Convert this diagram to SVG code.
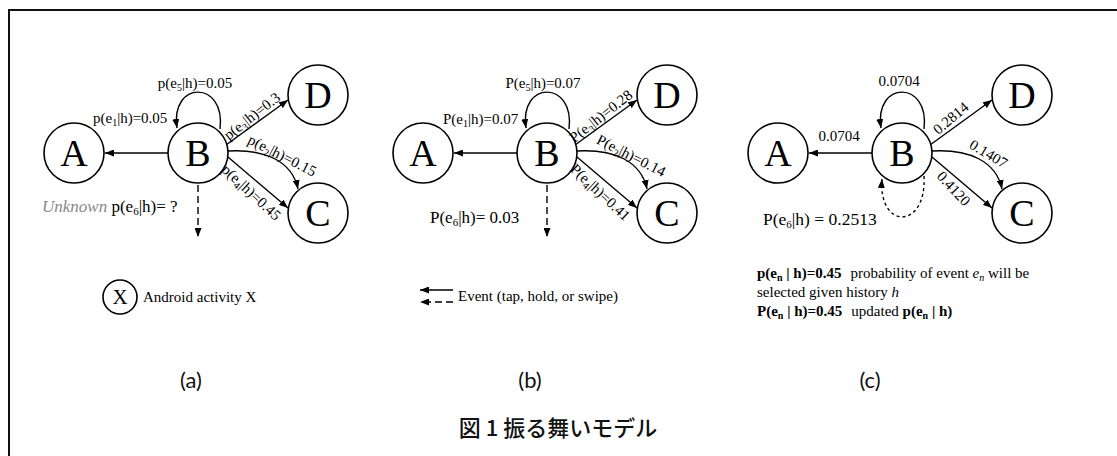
<svg xmlns="http://www.w3.org/2000/svg" width="1117" height="456" viewBox="0 0 1117 456">
<style>
.node{fill:#fff;stroke:#000;stroke-width:1.6}
.nl{font-family:"Liberation Serif",serif;font-size:38px;text-anchor:middle;fill:#000}
.e{fill:none;stroke:#000;stroke-width:1.4}
.d{stroke-dasharray:7,4}
.lb{font-family:"Liberation Serif",serif;font-size:15px;fill:#000}
.big{font-family:"Liberation Serif",serif;font-size:17px;fill:#000}
.sub{font-family:"Lato",sans-serif;font-size:22px;text-anchor:middle;fill:#111}
.cap{font-family:"Noto Sans CJK JP",sans-serif;font-size:22px;font-weight:500;text-anchor:middle;fill:#111}
</style>
<defs>
<marker id="ar" markerUnits="userSpaceOnUse" markerWidth="9" markerHeight="7" refX="9" refY="3.5" orient="auto"><path d="M0,0 L9,3.5 L0,7 z" fill="#000"/></marker>
</defs>
<rect x="9" y="10" width="1120" height="460" fill="none" stroke="#111" stroke-width="2"/>

<g id="connectors">
<!-- panel a -->
<path class="e" d="M168,153 L105,153" marker-end="url(#ar)"/>
<path class="e" d="M220,129 C226,80 170,80 177,128" marker-end="url(#ar)"/>
<path class="e" d="M226,145 L288,100" marker-end="url(#ar)"/>
<path class="e" d="M228,151 C265,149 292,161 298,189" marker-end="url(#ar)"/>
<path class="e" d="M228,157 L288,208" marker-end="url(#ar)"/>
<path class="e d" d="M198,185 L198,237" marker-end="url(#ar)"/>
<!-- panel b -->
<path class="e" d="M517,153 L454,153" marker-end="url(#ar)"/>
<path class="e" d="M569,129 C575,80 519,80 526,128" marker-end="url(#ar)"/>
<path class="e" d="M575,145 L637,100" marker-end="url(#ar)"/>
<path class="e" d="M577,151 C614,149 641,161 647,189" marker-end="url(#ar)"/>
<path class="e" d="M577,157 L637,208" marker-end="url(#ar)"/>
<path class="e d" d="M547,185 L547,237" marker-end="url(#ar)"/>
<!-- panel c -->
<path class="e" d="M872,153 L809,153" marker-end="url(#ar)"/>
<path class="e" d="M924,129 C930,80 874,80 881,128" marker-end="url(#ar)"/>
<path class="e" d="M930,145 L992,100" marker-end="url(#ar)"/>
<path class="e" d="M932,151 C969,149 996,161 1002,189" marker-end="url(#ar)"/>
<path class="e" d="M932,157 L992,208" marker-end="url(#ar)"/>
<path class="e" d="M924,176 C927,230 878,230 882,179" stroke-dasharray="3,3" marker-end="url(#ar)"/>
<!-- legend arrows -->
<path class="e" d="M453,290 L420,290" marker-end="url(#ar)"/>
<path class="e d" d="M453,302 L420,302" marker-end="url(#ar)"/>
</g>

<g id="panel-a">
<g id="a-A"><circle class="node" cx="74" cy="153" r="30"/><text class="nl" x="74" y="166">A</text></g>
<g id="a-B"><circle class="node" cx="198" cy="153" r="30"/><text class="nl" x="198" y="166">B</text></g>
<g id="a-D"><circle class="node" cx="318" cy="95" r="30"/><text class="nl" x="318" y="108">D</text></g>
<g id="a-C"><circle class="node" cx="318" cy="213" r="30"/><text class="nl" x="318" y="226">C</text></g>
<text class="lb" x="195" y="88" text-anchor="middle">p(e<tspan font-size="10" dy="3">5</tspan><tspan dy="-3">|h)=0.05</tspan></text>
<text class="lb" x="93" y="123">p(e<tspan font-size="10" dy="3">1</tspan><tspan dy="-3">|h)=0.05</tspan></text>
<text class="lb" text-anchor="middle" transform="translate(255,120) rotate(-38)">p(e<tspan font-size="10" dy="3">3</tspan><tspan dy="-3">|h)=0.3</tspan></text>
<text class="lb" text-anchor="middle" transform="translate(280,160) rotate(27)">p(e<tspan font-size="10" dy="3">2</tspan><tspan dy="-3">|h)=0.15</tspan></text>
<text class="lb" text-anchor="middle" transform="translate(248,196) rotate(43)">p(e<tspan font-size="10" dy="3">4</tspan><tspan dy="-3">|h)=0.45</tspan></text>
<text class="big" x="42" y="212"><tspan font-style="italic" fill="#888">Unknown</tspan> p(e<tspan font-size="11" dy="3">6</tspan><tspan dy="-3">|h)= ?</tspan></text>
<g id="a-X"><circle class="node" cx="120" cy="297" r="17"/><text class="nl" x="120" y="304" style="font-size:21px">X</text></g>
<text class="lb" x="143" y="302">Android activity X</text>
<text class="sub" x="191" y="388">(a)</text>
</g>

<g id="panel-b">
<g id="b-A"><circle class="node" cx="423" cy="153" r="30"/><text class="nl" x="423" y="166">A</text></g>
<g id="b-B"><circle class="node" cx="547" cy="153" r="30"/><text class="nl" x="547" y="166">B</text></g>
<g id="b-D"><circle class="node" cx="667" cy="95" r="30"/><text class="nl" x="667" y="108">D</text></g>
<g id="b-C"><circle class="node" cx="667" cy="213" r="30"/><text class="nl" x="667" y="226">C</text></g>
<text class="lb" x="543" y="88" text-anchor="middle">P(e<tspan font-size="10" dy="3">5</tspan><tspan dy="-3">|h)=0.07</tspan></text>
<text class="lb" x="443" y="124">P(e<tspan font-size="10" dy="3">1</tspan><tspan dy="-3">|h)=0.07</tspan></text>
<text class="lb" text-anchor="middle" transform="translate(604,120) rotate(-38)">P(e<tspan font-size="10" dy="3">3</tspan><tspan dy="-3">|h)=0.28</tspan></text>
<text class="lb" text-anchor="middle" transform="translate(629,160) rotate(27)">P(e<tspan font-size="10" dy="3">2</tspan><tspan dy="-3">|h)=0.14</tspan></text>
<text class="lb" text-anchor="middle" transform="translate(597,196) rotate(43)">P(e<tspan font-size="10" dy="3">4</tspan><tspan dy="-3">|h)=0.41</tspan></text>
<text class="big" x="430" y="223">P(e<tspan font-size="11" dy="3">6</tspan><tspan dy="-3">|h)= 0.03</tspan></text>
<text class="lb" x="458" y="301">Event (tap, hold, or swipe)</text>
<text class="sub" x="530" y="388">(b)</text>
</g>

<g id="panel-c">
<g id="c-A"><circle class="node" cx="778" cy="153" r="30"/><text class="nl" x="778" y="166">A</text></g>
<g id="c-B"><circle class="node" cx="902" cy="153" r="30"/><text class="nl" x="902" y="166">B</text></g>
<g id="c-D"><circle class="node" cx="1022" cy="95" r="30"/><text class="nl" x="1022" y="108">D</text></g>
<g id="c-C"><circle class="node" cx="1022" cy="213" r="30"/><text class="nl" x="1022" y="226">C</text></g>
<text class="lb" x="899" y="86" text-anchor="middle">0.0704</text>
<text class="lb" x="839" y="141" text-anchor="middle">0.0704</text>
<text class="lb" text-anchor="middle" transform="translate(954,122) rotate(-40)">0.2814</text>
<text class="lb" text-anchor="middle" transform="translate(986,158) rotate(31)">0.1407</text>
<text class="lb" text-anchor="middle" transform="translate(950,192) rotate(47)">0.4120</text>
<text class="big" x="763" y="225" style="font-size:17.5px">P(e<tspan font-size="11" dy="3">6</tspan><tspan dy="-3">|h) = 0.2513</tspan></text>
<text class="lb" x="757" y="278"><tspan font-weight="bold">p(e<tspan font-size="10" dy="3">n</tspan><tspan dy="-3"> | h)=0.45</tspan></tspan><tspan dx="9">probability of event </tspan><tspan font-style="italic">e</tspan><tspan font-style="italic" font-size="10" dy="3">n</tspan><tspan dy="-3"> will be</tspan></text>
<text class="lb" x="757" y="297">selected given history <tspan font-style="italic">h</tspan></text>
<text class="lb" x="757" y="316"><tspan font-weight="bold">P(e<tspan font-size="10" dy="3">n</tspan><tspan dy="-3"> | h)=0.45</tspan></tspan><tspan dx="9">updated </tspan><tspan font-weight="bold">p(e<tspan font-size="10" dy="3">n</tspan><tspan dy="-3"> | h)</tspan></tspan></text>
<text class="sub" x="870" y="388">(c)</text>
</g>

<text class="cap" x="558" y="436">図 1 振る舞いモデル</text>
</svg>
